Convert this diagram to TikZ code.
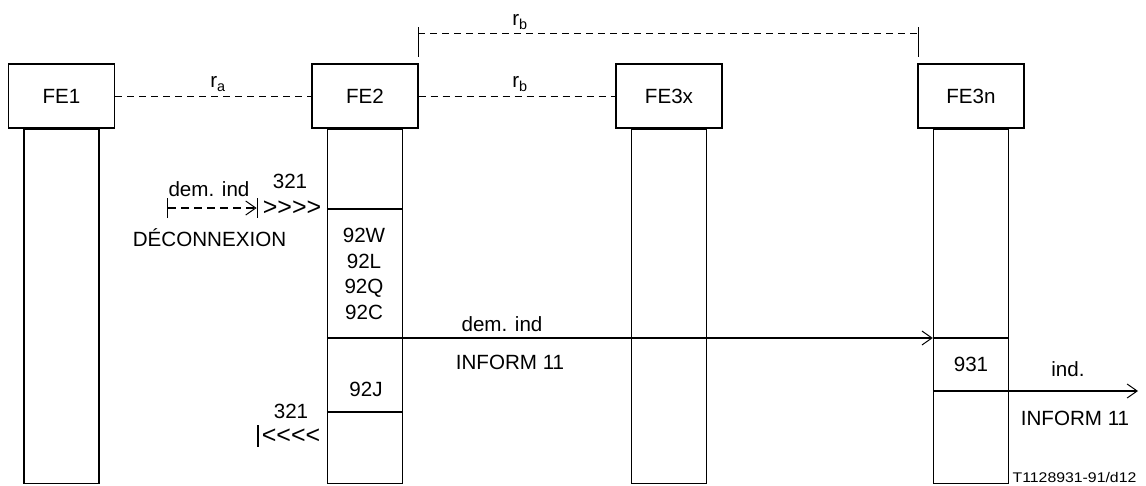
\documentclass[tikz,border=0pt]{standalone}
\usepackage{fontspec}
\setmainfont{Liberation Sans}
\usetikzlibrary{arrows.meta,positioning}

\begin{document}
\begin{tikzpicture}[x=1pt,y=-1pt,
      every node/.style={font=\fontsize{20.6}{25.5}\selectfont,inner sep=0pt,align=center},
      fe/.style={draw,line width=1.1pt,minimum width=106pt,minimum height=64pt},
      life/.style={draw,line width=1.4pt,minimum width=75pt,minimum height=354pt,anchor=north},
      ref/.style={dash pattern=on 7pt off 5pt,line width=0.8pt},
      bar/.style={line width=1.4pt},
      chev/.style={font=\fontsize{25}{30}\selectfont},
      msg/.style={line width=1.4pt,-{Straight Barb[length=10pt,width=14pt,line width=1pt]}}]
      \useasboundingbox (0,0) rectangle (1146,485);
      % entities and their lifelines
      \node[fe] (fe1) at (61.5,96) {FE1};
      \node[fe] (fe2) at (365,96) {FE2};
      \node[fe] (fe3x) at (669,96) {FE3x};
      \node[fe] (fe3n) at (971,96) {FE3n};
      \node[life] (l1) at (fe1.south) {};
      \node[life] (l2) at (fe2.south) {};
      \node[life] (l3) at (fe3x.south) {};
      \node[life] (l4) at (fe3n.south) {};
      % relationships
      \draw[ref] (fe1) -- (fe2);
      \draw[ref] (fe2) -- (fe3x);
      \node (ra) at (218,84) {r\textsubscript{a}};
      \node (rb) at (520,84) {r\textsubscript{b}};
      \coordinate (ta) at (418,33);
      \coordinate (tb) at (918,33);
      \draw[ref] (ta) -- (tb);
      \draw[line width=0.8pt] ([yshift=6pt]ta) -- ([yshift=-24pt]ta);
      \draw[line width=0.8pt] ([yshift=6pt]tb) -- ([yshift=-24pt]tb);
      \node (rbtop) at (520,22) {r\textsubscript{b}};
      % incoming release from FE1 side
      \coordinate (da) at (167,208);
      \coordinate (db) at (258,208);
      \draw[line width=1.3pt,dash pattern=on 8pt off 5pt,{Bar[width=20pt,line width=1.4pt]}-{Straight Barb[length=10pt,width=14pt,line width=1pt]Bar[width=20pt,line width=1.4pt]}] (da) -- (db);
      \node (demind1) at (209,189) {dem. ind};
      \node (n321a) at (290,181) {321};
      \node (deconn) at (209.5,238) {DÉCONNEXION};
      \node[chev] (gt) at (292,208) {>\kern0pt>\kern0pt>\kern0pt>};
      \coordinate (d1) at (365,209);
      \draw[bar] (l2.west |- d1) -- (l2.east |- d1);
      \node (fe2acts) at (364,274) {92W\\92L\\92Q\\92C};
      % request to FE3n
      \coordinate (m) at (365,338);
      \draw[msg] (l2.west |- m) -- (l4.west |- m);
      \draw[bar] (l4.west |- m) -- (l4.east |- m);
      \node (demind2) at (502,324) {dem. ind};
      \node (inform1) at (510,362) {INFORM 11};
      \node (n92j) at (366,389.5) {92J};
      \coordinate (d2) at (365,412);
      \draw[bar] (l2.west |- d2) -- (l2.east |- d2);
      \node (n321b) at (291,411) {321};
      \coordinate (bb) at (258,436);
      \draw[bar] ([yshift=11pt]bb) -- ([yshift=-11pt]bb);
      \node[chev] (lt) at (291,436) {<\kern0pt<\kern0pt<\kern0pt<};
      % indication from FE3n
      \node (n931) at (971,364) {931};
      \coordinate (indend) at (1138,391);
      \draw[msg] (l4.west |- indend) -- (indend);
      \node (ind) at (1068,369) {ind.};
      \node (inform2) at (1075,418) {INFORM 11};
      \node[font=\fontsize{14}{16}\selectfont] (tag) at (1074.5,477) {\scalebox{1.13}[1]{T1128931-91/d12}};
    \end{tikzpicture}
\end{document}
